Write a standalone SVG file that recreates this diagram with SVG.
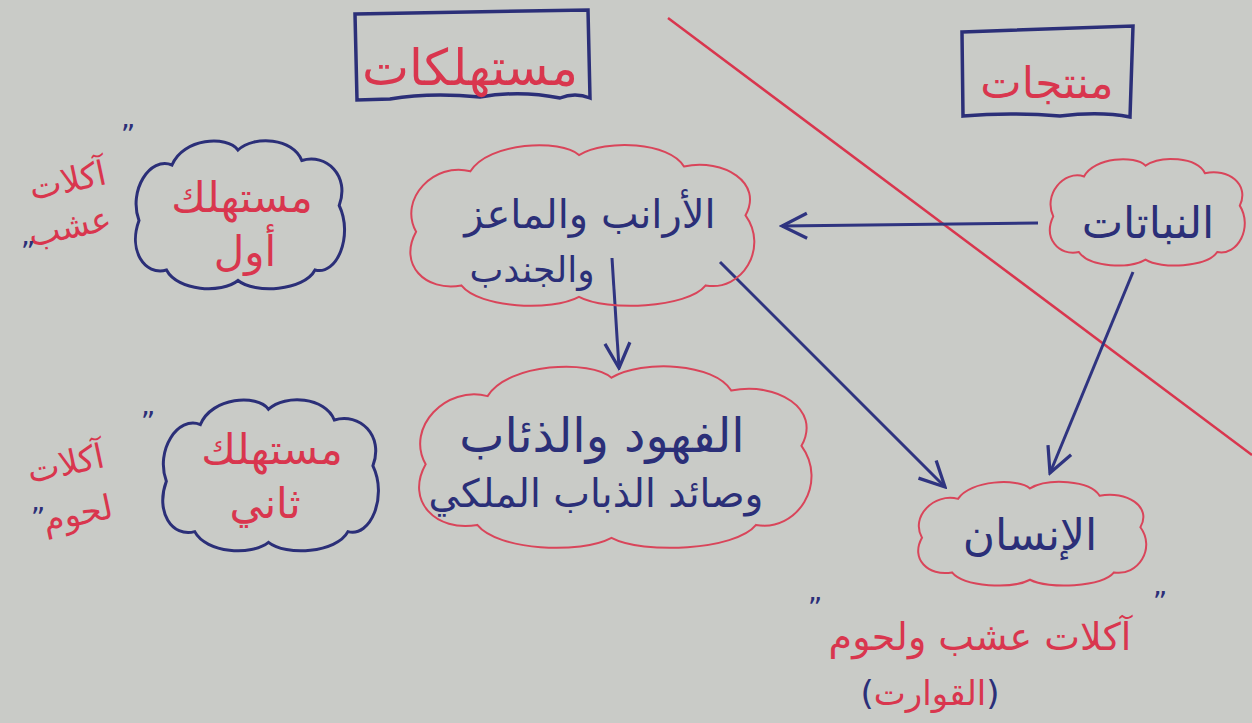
<svg xmlns="http://www.w3.org/2000/svg" xmlns:xlink="http://www.w3.org/1999/xlink" width="1252" height="723" viewBox="0 0 1252 723">
<defs>
<style>
.bg{fill:#c9cbc7}
.txt{font-family:"DejaVu Sans","Noto Sans",sans-serif;text-anchor:middle}
.red{fill:#d9364e}
.blue{fill:#2b2f78}
.box{fill:none;stroke:#2b2f78;stroke-width:3.5}
.cr{fill:none;stroke:#d9455a;stroke-width:2}
.cb{fill:none;stroke:#2b2f78;stroke-width:3}
.arr{fill:none;stroke:#2f3480;stroke-width:3;marker-end:url(#ah)}
</style>
<path id="cloud" vector-effect="non-scaling-stroke" d="M10,55 C0,35 20,12 40,18 C50,0 90,-2 100,8 C115,-2 150,0 158,15 C180,10 202,25 192,45 C205,65 190,92 170,88 C160,102 115,104 100,95 C85,104 45,102 35,88 C15,92 0,75 10,55 Z"/>
<marker id="ah" viewBox="0 0 12 12" refX="11" refY="6" markerWidth="30" markerHeight="30" markerUnits="userSpaceOnUse" orient="auto">
<path d="M1,1 L11,6 L1,11" fill="none" stroke="#2f3480" stroke-width="1.3"/>
</marker>
</defs>
<rect class="bg" x="0" y="0" width="1252" height="723"/>
<g id="divider"><line x1="668" y1="18" x2="1252" y2="455" stroke="#d9364e" stroke-width="2.5"/></g>

<g id="connectors">
<line class="arr" x1="1038" y1="223" x2="782" y2="226"/>
<line class="arr" x1="612" y1="258" x2="619" y2="368"/>
<line class="arr" x1="720" y1="262" x2="945" y2="487"/>
<line class="arr" x1="1133" y1="272" x2="1050" y2="473"/>
</g>

<g id="consumers-box">
<path class="box" d="M355,14 L588,10 L590,98 Q575,92 560,98 Q520,90 480,97 Q430,92 390,99 L357,100 Z"/>
<text class="txt red" x="470" y="85" font-size="50">مستهلكات</text>
</g>

<g id="producers-box">
<path class="box" d="M962,32 L1133,26 L1130,117 Q1100,111 1060,116 Q1010,112 963,116 Z"/>
<text class="txt red" x="1047" y="98" font-size="44">منتجات</text>
</g>

<g id="plants">
<use xlink:href="#cloud" class="cr" transform="translate(1043,157) scale(1.025,1.08)"/>
<text class="txt blue" x="1148" y="238" font-size="44">النباتات</text>
</g>

<g id="herbivores">
<use xlink:href="#cloud" class="cr" transform="translate(398,142) scale(1.81,1.63)"/>
<text class="txt blue" x="590" y="228" font-size="40">الأرانب والماعز</text>
<text class="txt blue" x="532" y="282" font-size="36">والجندب</text>
</g>

<g id="primary-consumer">
<use xlink:href="#cloud" class="cb" transform="translate(128,138) scale(1.1,1.5)"/>
<text class="txt red" x="242" y="212" font-size="42">مستهلك</text>
<text class="txt red" x="245" y="266" font-size="42">أول</text>
</g>

<g id="herbivore-label">
<text class="txt red" x="70" y="192" font-size="34" transform="rotate(-12 70 192)">آكلات</text>
<text class="txt red" x="72" y="238" font-size="34" transform="rotate(-12 72 238)">عشب</text>
<text class="txt blue" x="128" y="145" font-size="28">”</text>
<text class="txt blue" x="28" y="262" font-size="28">”</text>
</g>

<g id="secondary-consumer">
<use xlink:href="#cloud" class="cb" transform="translate(155,397) scale(1.135,1.53)"/>
<text class="txt red" x="272" y="464" font-size="42">مستهلك</text>
<text class="txt red" x="265" y="518" font-size="42">ثاني</text>
</g>

<g id="carnivore-label">
<text class="txt red" x="68" y="475" font-size="34" transform="rotate(-12 68 475)">آكلات</text>
<text class="txt red" x="80" y="525" font-size="34" transform="rotate(-12 80 525)">لحوم</text>
<text class="txt blue" x="148" y="432" font-size="28">”</text>
<text class="txt blue" x="38" y="528" font-size="28">”</text>
</g>

<g id="carnivores">
<use xlink:href="#cloud" class="cr" transform="translate(405,363) scale(2.065,1.84)"/>
<text class="txt blue" x="602" y="452" font-size="48">الفهود والذئاب</text>
<text class="txt blue" x="596" y="507" font-size="39">وصائد الذباب الملكي</text>
</g>

<g id="human">
<use xlink:href="#cloud" class="cr" transform="translate(910,480) scale(1.2,1.05)"/>
<text class="txt blue" x="1030" y="550" font-size="44">الإنسان</text>
</g>

<g id="omnivore-label">
<text class="txt blue" x="1160" y="612" font-size="28">”</text>
<text class="txt red" x="980" y="650" font-size="38">آكلات عشب ولحوم</text>
<text class="txt blue" x="815" y="618" font-size="28">”</text>
<text class="txt" x="930" y="705" font-size="34"><tspan class="blue">(</tspan><tspan class="red">القوارت</tspan><tspan class="blue">)</tspan></text>
</g>
</svg>
